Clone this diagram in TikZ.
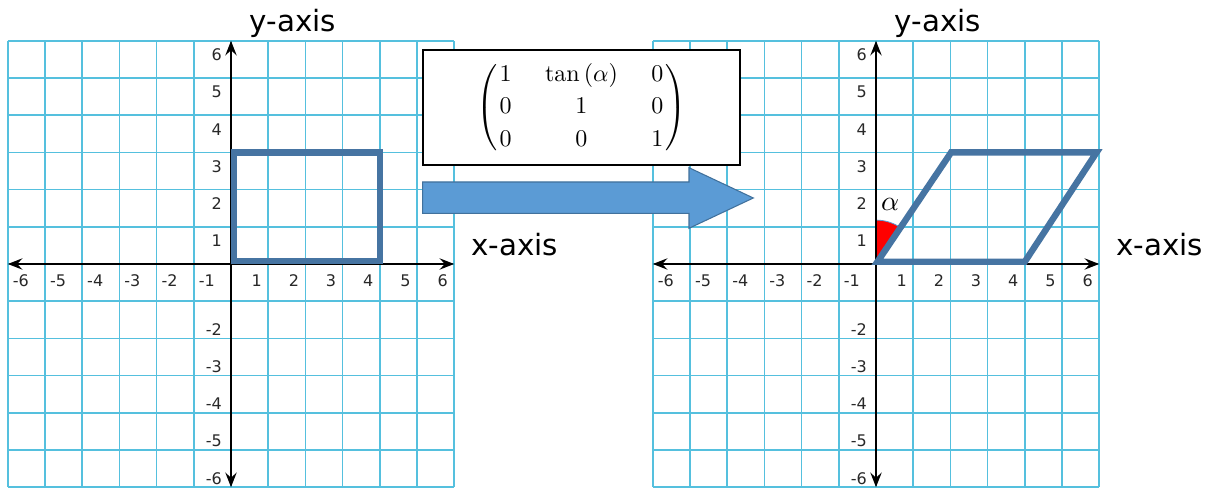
\documentclass[tikz,border=0pt]{standalone}
\usepackage{amsmath}
\usepackage{graphicx}
\usepackage{fontspec}
\newfontfamily\dv{DejaVu Sans}
\usetikzlibrary{arrows.meta}
\definecolor{gridc}{RGB}{85,192,222}
\definecolor{shapec}{RGB}{70,116,162}
\definecolor{arrowfill}{RGB}{91,155,213}
\definecolor{arrowline}{RGB}{65,113,156}
\definecolor{tickc}{RGB}{40,40,40}
\tikzset{
  gridline/.style={draw=gridc, line width=1.3pt},
  axisline/.style={draw=black, line width=1.5pt,
    {Stealth[length=11pt,width=8.5pt,inset=4pt]}-{Stealth[length=11pt,width=8.5pt,inset=4pt]}},
  ticklab/.style={font=\dv\fontsize{12}{14}\selectfont, text=tickc, inner sep=0pt, anchor=base},
  axislab/.style={font=\dv\fontsize{22}{26}\selectfont, inner sep=0pt},
  shapeline/.style={draw=shapec, line width=4.8pt, line join=miter, miter limit=10},
  matbox/.style={draw=black, line width=1.1pt, fill=white, inner sep=0pt,
    minimum width=237.75pt, minimum height=86.25pt},
  bigarrow/.style={fill=arrowfill, draw=arrowline, line width=0.8pt},
}
\newcommand\coordplane[1]{%
  \foreach \i in {-6,...,6} {
    \draw[gridline] (\i,-6) -- (\i,6);
    \draw[gridline] (-6,\i) -- (6,\i);
  }
  \coordinate (#1xl) at (-6,0);
  \coordinate (#1xr) at (6,0);
  \coordinate (#1yb) at (0,-6);
  \coordinate (#1yt) at (0,6);
  \foreach \k in {-6,...,-1} {\node[ticklab] (#1tx\k) at (\k+0.35,-0.607) {\k};}
  \foreach \k in {1,...,6} {\node[ticklab] (#1tx\k) at (\k-0.31,-0.607) {\k};}
  \foreach \k in {1,...,6} {\node[ticklab, anchor=base east] (#1ty\k) at (-0.24,\k-0.537) {\k};}
  \foreach \k in {-6,...,-2} {\node[ticklab, anchor=base east] (#1ty\k) at (-0.24,\k+0.083) {\k};}
  \node[axislab, anchor=base] (#1ylab) at (1.66,6.245) {y-axis};
  \node[axislab, anchor=base west] (#1xlab) at (6.45,0.215) {x-axis};
}
\begin{document}
\begin{tikzpicture}[x=0.75pt,y=0.75pt]
\useasboundingbox (0,0) rectangle (1218,488);
\fill[white] (0,0) rectangle (1218,488);
% left plane
\begin{scope}[shift={(173.25pt,168pt)}, x=27.9pt, y=27.9pt]
  \coordplane{L}
  \draw[axisline] (Lxl) -- (Lxr);
  \draw[axisline] (Lyb) -- (Lyt);
  \draw[shapeline] (0.08,0.08) rectangle (4,3);
\end{scope}
% right plane
\begin{scope}[shift={(657pt,168pt)}, x=27.9pt, y=27.9pt]
  \coordplane{R}
  \fill[red] (0,0) -- (90:1.18) arc[start angle=90, end angle=56, radius=1.18] -- cycle;
  \draw[arrowfill, line width=0.6pt] (90:1.18) arc[start angle=90, end angle=56, radius=1.18];
  \draw[axisline] (Rxl) -- (Rxr);
  \draw[axisline] (Ryb) -- (Ryt);
  \draw[shapeline] (0.04,0.06) -- (4,0.06) -- (5.93,3) -- (2.02,3) -- cycle;
  \node[inner sep=0pt] (alab) at (0.38,1.59) {\scalebox{2.1}{$\alpha$}};
\end{scope}
% transformation matrix
\node[matbox] (mat) at (581.5,380.5) {\scalebox{1.8}{%
  \renewcommand{\arraystretch}{1.12}%
  \delimiterfactor=800 \delimitershortfall=8pt
  $\left(\begin{array}{@{\hspace{1pt}}c@{\hspace{14pt}}c@{\hspace{14pt}}c@{\hspace{1pt}}}
  1 & \tan\,(\alpha) & 0\\
  0 & 1 & 0\\
  0 & 0 & 1
  \end{array}\right)$}};
% big arrow
\draw[bigarrow] (422.7,306) -- (689,306) -- (689,320.3) -- (753.3,290) -- (689,259.7) -- (689,274.7) -- (422.7,274.7) -- cycle;
\end{tikzpicture}
\end{document}
